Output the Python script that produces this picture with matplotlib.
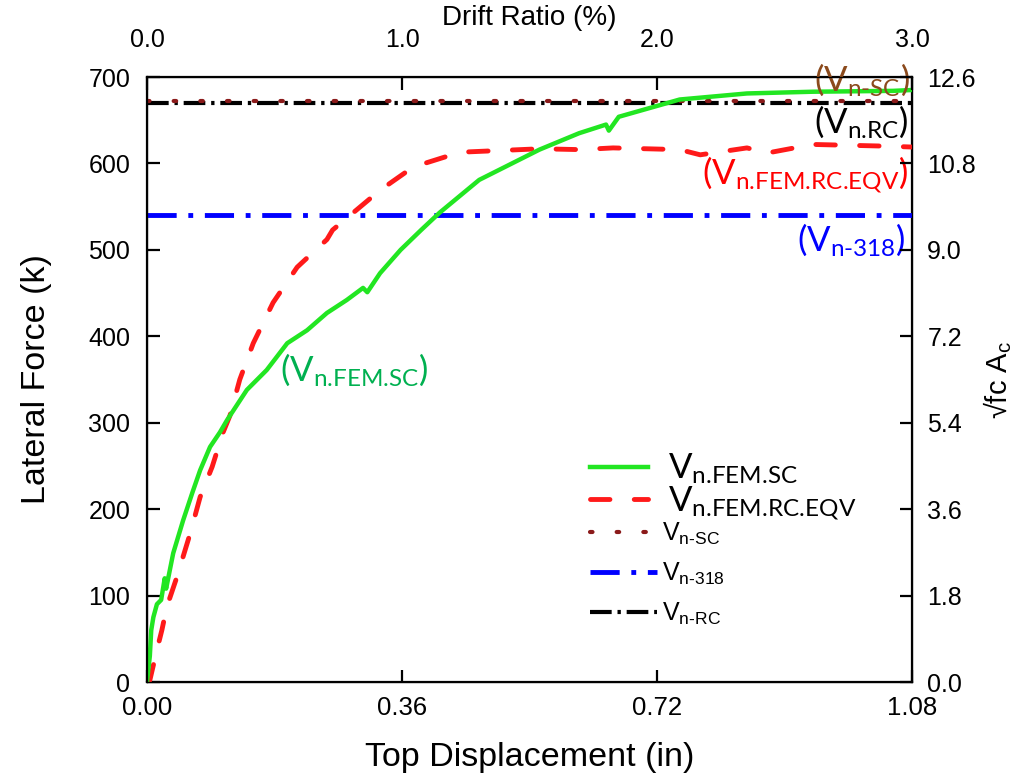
import matplotlib
matplotlib.use("Agg")
import matplotlib.pyplot as plt

plt.rcParams['font.family'] = ['Liberation Sans', 'DejaVu Sans']
plt.rcParams['mathtext.fontset'] = 'custom'
plt.rcParams['mathtext.rm'] = 'Lato'

# ---- data ----
fem_sc_x = [0.000, 0.004, 0.006, 0.009, 0.014, 0.020, 0.025, 0.027, 0.037, 0.051, 0.064,
            0.075, 0.089, 0.103, 0.113, 0.141, 0.169, 0.198, 0.226, 0.254, 0.282, 0.305,
            0.311, 0.329, 0.358, 0.387, 0.413, 0.469, 0.554, 0.610, 0.648, 0.652, 0.666,
            0.752, 0.847, 0.940, 1.053, 1.080]
fem_sc_y = [0, 30, 60, 75, 90, 95, 120, 108, 149, 187, 219,
            245, 272, 289, 303, 338, 361, 392, 407, 427, 442, 456,
            451, 473, 500, 523, 543, 581, 616, 635, 645, 638, 654,
            674, 681, 683, 684, 685]

fem_rc_x = [0.000, 0.004, 0.014, 0.021, 0.028, 0.042, 0.061, 0.075, 0.092, 0.107, 0.117,
            0.131, 0.150, 0.178, 0.212, 0.254, 0.262, 0.329, 0.376, 0.442, 0.555, 0.612,
            0.658, 0.752, 0.781, 0.847, 0.875, 0.940, 1.045, 1.080]
fem_rc_y = [0, 2, 37, 60, 87, 121, 172, 214, 249, 288, 308,
            350, 392, 439, 480, 512, 523, 569, 596, 613, 617, 616,
            618, 616, 610, 618, 612, 622, 620, 619]

vn_sc = 672
vn_318 = 540
vn_rc = 670

x_ticks = [0.00, 0.36, 0.72, 1.08]
x_tick_labels = ['0.00', '0.36', '0.72', '1.08']
y_ticks = [0, 100, 200, 300, 400, 500, 600, 700]
right_ticks = [0.0, 1.8, 3.6, 5.4, 7.2, 9.0, 10.8, 12.6]
top_ticks = [0.0, 1.0, 2.0, 3.0]

# ---- figure ----
fig = plt.figure(figsize=(10.33, 7.75), dpi=100)
ax = fig.add_axes([0.1423, 0.12, 0.7406, 0.7806])

green = '#22e622'
red = '#ff1a1a'

l1, = ax.plot(fem_sc_x, fem_sc_y, color=green, lw=3.2, zorder=5)
l2, = ax.plot(fem_rc_x, fem_rc_y, color=red, lw=3.5, dashes=(4, 5), dash_capstyle='round', zorder=4)
l5, = ax.plot([0, 1.08], [vn_rc, vn_rc], color='black', lw=3, dashes=(5.2, 1.4, 0.8, 1.4), zorder=3)
l3, = ax.plot([0, 1.08], [vn_sc, vn_sc], color='#8b1a1a', lw=3, dashes=(0.6, 5.8),
              dash_capstyle='round', zorder=3)
l4, = ax.plot([0, 1.08], [vn_318, vn_318], color='#0000ff', lw=3.5, dashes=(6, 2.4, 1, 2.4), zorder=3)

ax.set_xlim(0, 1.08)
ax.set_ylim(0, 700)
ax.set_xticks(x_ticks)
ax.set_xticklabels(x_tick_labels)
ax.set_yticks(y_ticks)
ax.tick_params(axis='y', direction='in', length=9, width=1.6, labelsize=18, pad=12)
ax.tick_params(axis='x', direction='in', length=9, width=1.6, labelsize=18.5, pad=10)
for s in ax.spines.values():
    s.set_linewidth(1.6)
ax.set_xlabel('Top Displacement (in)', fontsize=24.5, labelpad=16)
ax.set_ylabel('Lateral Force (k)', fontsize=24.5, labelpad=26)

ax2 = ax.twinx()
ax2.set_ylim(0, 12.6)
ax2.set_yticks(right_ticks)
ax2.set_yticklabels([f'{v:.1f}' for v in right_ticks])
ax2.tick_params(direction='in', length=9, width=1.6, labelsize=18, pad=11)
ax2.set_ylabel(r'√fc A$_{\mathregular{c}}$', fontsize=21, labelpad=4)

ax3 = ax.twiny()
ax3.set_xlim(0, 3.0)
ax3.set_xticks(top_ticks)
ax3.set_xticklabels([f'{v:.1f}' for v in top_ticks])
ax3.tick_params(direction='in', length=9, width=1.6, labelsize=18, pad=18)
ax3.set_xlabel('Drift Ratio (%)', fontsize=20, labelpad=2)

# ---- annotations ----
ann = dict(fontsize=25, family='Lato', zorder=6)
ax.text(0.188, 361, r'($\mathregular{V_{\text{n.FEM.SC}}}$)', color='#00b050', ha='left', va='center', **ann)
ax.text(1.077, 697, r'($\mathregular{V_{\text{n-SC}}}$)', color='#8b4a1c', ha='right', va='center', **ann)
ax.text(1.075, 648, r'($\mathregular{V_{\text{n.RC}}}$)', color='black', ha='right', va='center', **ann)
ax.text(1.075, 587, r'($\mathregular{V_{\text{n.FEM.RC.EQV}}}$)', color='#ff0000', ha='right', va='center', **ann)
ax.text(1.071, 512, r'($\mathregular{V_{\text{n-318}}}$)', color='#0000ff', ha='right', va='center', **ann)

# ---- legend (two blocks with different text sizes) ----
leg1 = ax.legend([l1, l2], [r'$\mathregular{V_{\text{n.FEM.SC}}}$', r'$\mathregular{V_{\text{n.FEM.RC.EQV}}}$'],
                 loc='center left', bbox_to_anchor=(0.579, 0.322), frameon=False,
                 prop={'size': 25, 'family': 'Lato'}, handlelength=1.67, handletextpad=0.58,
                 labelspacing=-0.05, borderpad=0, borderaxespad=0)
ax.add_artist(leg1)
leg2 = ax.legend([l3, l4, l5], ['V$_{\\mathregular{n\u2010SC}}$', 'V$_{\\mathregular{n\u2010318}}$',
                                'V$_{\\mathregular{n\u2010RC}}$'],
                 loc='center left', bbox_to_anchor=(0.579, 0.1785), frameon=False,
                 prop={'size': 18}, handlelength=2.68, handletextpad=0.2,
                 labelspacing=0.54, borderpad=0, borderaxespad=0)

fig.savefig('out.png', dpi=100)
